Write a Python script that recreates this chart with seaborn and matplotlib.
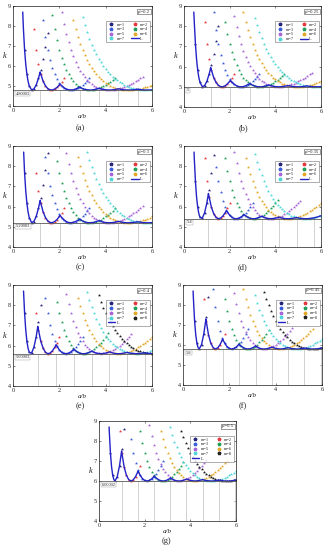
import numpy as np
import matplotlib
matplotlib.use('Agg')
import matplotlib.pyplot as plt
import seaborn as sns
from matplotlib.lines import Line2D

# ---------------- data (buckling coefficient k versus a/b, dots every 0.1) ----------------
panel_labels = ['(a)', '(b)', '(c)', '(d)', '(e)', '(f)', '(g)']
nu_labels = ["μ'=0.2", "μ'=0.25", "μ'=0.3", "μ'=0.35", "μ'=0.4", "μ'=0.45", "μ'=0.5"]
base_k = [4.8, 5.0, 5.2, 5.4, 5.6, 5.8, 6.0]
base_labels = ['4.80003', '5', '5.20003', '5.4', '5.60003', '5.8', '6.00002']
x_ticks = [0, 2, 4, 6]
y_ticks = [4, 5, 6, 7, 8, 9]

# (a)
a_x0 = [0.5, 0.9, 1.3, 1.7, 2.1, 2.6, 3.0]
a_m1 = [6.81, 5.59, 5.01, 4.81, 4.85, 5.05, 5.39, 5.82, 6.35, 6.95, 7.63]
a_m2 = [7.85, 6.81, 6.09, 5.59, 5.24, 5.01, 4.87, 4.81, 4.80, 4.85, 4.93, 5.05, 5.21, 5.39]
a_m3 = [8.29, 7.46, 6.81, 6.30, 5.90, 5.59, 5.34, 5.15, 5.01, 4.91, 4.85, 4.81, 4.80, 4.81, 4.85, 4.90, 4.97,
        5.05, 5.15, 5.26, 5.39]
a_m4 = [8.54, 7.85, 7.29, 6.81, 6.42, 6.09, 5.81, 5.59, 5.40, 5.24, 5.11, 5.01, 4.93, 4.87, 4.83, 4.81, 4.80,
        4.80, 4.82, 4.85, 4.88, 4.93, 4.99, 5.05, 5.13, 5.21, 5.29, 5.39]
a_m5 = [8.69, 8.11, 7.61, 7.18, 6.81, 6.49, 6.21, 5.97, 5.76, 5.59, 5.43, 5.30, 5.18, 5.09, 5.01, 4.95, 4.90,
        4.86, 4.83, 4.81, 4.80, 4.80, 4.81, 4.82, 4.85, 4.88, 4.91, 4.95, 5.00, 5.05, 5.11, 5.17, 5.24, 5.31,
        5.39, 5.47]
a_m6 = [8.29, 7.85, 7.46, 7.12, 6.81, 6.54, 6.30, 6.09, 5.90, 5.73, 5.59, 5.45, 5.34, 5.24, 5.15, 5.08, 5.01,
        4.96, 4.91, 4.87, 4.85, 4.82, 4.81, 4.80, 4.80, 4.80, 4.81, 4.83, 4.85, 4.87, 4.90, 4.93, 4.97, 5.01,
        5.05]
a_m7 = [8.43, 8.03, 7.68, 7.36, 7.07, 6.81, 6.58, 6.37, 6.18, 6.01, 5.85, 5.71, 5.59, 5.47, 5.37, 5.28, 5.20,
        5.13, 5.07, 5.01, 4.96, 4.92, 4.89, 4.86, 4.84, 4.82, 4.81, 4.80, 4.80, 4.80, 4.81]
a_head_x = [0.42, 0.45, 0.55, 0.65]
a_head_k = [8.70, 7.85, 6.09, 5.24]
a_cusp_x = [1.17, 2.03, 2.88, 3.71, 4.55, 5.38]
a_cusp_k = [5.70, 5.10, 4.95, 4.89, 4.86, 4.84]

# (b)
b_x0 = [0.5, 0.9, 1.3, 1.8, 2.2, 2.6, 3.1]
b_m1 = [7.13, 5.83, 5.22, 5.01, 5.05, 5.27, 5.62, 6.08, 6.64, 7.27, 7.99]
b_m2 = [8.22, 7.13, 6.36, 5.83, 5.46, 5.22, 5.08, 5.01, 5.00, 5.05, 5.14, 5.27, 5.43, 5.62]
b_m3 = [8.69, 7.81, 7.13, 6.59, 6.16, 5.83, 5.57, 5.37, 5.22, 5.12, 5.05, 5.01, 5.00, 5.01, 5.05, 5.11, 5.18,
        5.27, 5.37, 5.49, 5.62]
b_m4 = [8.22, 7.62, 7.13, 6.71, 6.36, 6.07, 5.83, 5.63, 5.46, 5.33, 5.22, 5.14, 5.08, 5.04, 5.01, 5.00, 5.00,
        5.02, 5.05, 5.09, 5.14, 5.20, 5.27, 5.34, 5.43, 5.52, 5.62]
b_m5 = [8.50, 7.97, 7.52, 7.13, 6.79, 6.49, 6.24, 6.02, 5.83, 5.67, 5.53, 5.41, 5.31, 5.22, 5.15, 5.10, 5.06,
        5.03, 5.01, 5.00, 5.00, 5.01, 5.03, 5.05, 5.08, 5.12, 5.16, 5.21, 5.27, 5.33, 5.39, 5.46, 5.54, 5.62,
        5.70]
b_m6 = [8.69, 8.22, 7.81, 7.45, 7.13, 6.84, 6.59, 6.36, 6.16, 5.99, 5.83, 5.69, 5.57, 5.46, 5.37, 5.29, 5.22,
        5.16, 5.12, 5.08, 5.05, 5.03, 5.01, 5.00, 5.00, 5.00, 5.01, 5.03, 5.05, 5.08, 5.11, 5.14, 5.18, 5.22,
        5.27]
b_m7 = [8.41, 8.04, 7.70, 7.40, 7.13, 6.88, 6.66, 6.46, 6.27, 6.11, 5.96, 5.83, 5.71, 5.60, 5.51, 5.42, 5.35,
        5.28, 5.22, 5.17, 5.13, 5.09, 5.06, 5.04, 5.02, 5.01, 5.00, 5.00, 5.00, 5.01]
b_head_x = [0.43, 0.45, 0.55, 0.65]
b_head_k = [8.70, 8.22, 6.36, 5.46]
b_cusp_x = [1.17, 2.03, 2.88, 3.71, 4.55, 5.38]
b_cusp_k = [5.95, 5.32, 5.16, 5.10, 5.06, 5.05]

# (c)
c_x0 = [0.5, 1.0, 1.4, 1.9, 2.3, 2.8, 3.2]
c_m1 = [7.66, 6.16, 5.46, 5.21, 5.26, 5.51, 5.92, 6.45, 7.09, 7.83, 8.66]
c_m2 = [7.66, 6.78, 6.16, 5.74, 5.46, 5.29, 5.21, 5.21, 5.26, 5.36, 5.51, 5.70, 5.92]
c_m3 = [8.46, 7.66, 7.04, 6.55, 6.16, 5.86, 5.63, 5.46, 5.34, 5.26, 5.21, 5.20, 5.22, 5.26, 5.32, 5.41, 5.51,
        5.63, 5.77, 5.92]
c_m4 = [8.24, 7.66, 7.18, 6.78, 6.44, 6.16, 5.93, 5.74, 5.58, 5.46, 5.36, 5.29, 5.24, 5.21, 5.20, 5.21, 5.22,
        5.26, 5.30, 5.36, 5.43, 5.51, 5.60, 5.70, 5.80, 5.92]
c_m5 = [8.64, 8.11, 7.66, 7.27, 6.93, 6.63, 6.38, 6.16, 5.97, 5.81, 5.67, 5.55, 5.46, 5.38, 5.32, 5.27, 5.23,
        5.21, 5.20, 5.20, 5.21, 5.23, 5.26, 5.29, 5.34, 5.39, 5.45, 5.51, 5.58, 5.66, 5.74, 5.82, 5.92, 6.01]
c_m6 = [8.46, 8.03, 7.66, 7.33, 7.04, 6.78, 6.55, 6.34, 6.16, 6.00, 5.86, 5.74, 5.63, 5.54, 5.46, 5.39, 5.34,
        5.29, 5.26, 5.23, 5.21, 5.20, 5.20, 5.21, 5.22, 5.23, 5.26, 5.29, 5.32, 5.36, 5.41, 5.46, 5.51]
c_m7 = [8.72, 8.33, 7.98, 7.66, 7.37, 7.12, 6.88, 6.67, 6.48, 6.31, 6.16, 6.02, 5.90, 5.79, 5.69, 5.60, 5.52,
        5.46, 5.40, 5.35, 5.31, 5.27, 5.25, 5.23, 5.21, 5.20, 5.20, 5.20, 5.21]
c_head_x = [0.46, 0.55, 0.65]
c_head_k = [8.70, 6.78, 5.74]
c_cusp_x = [1.17, 2.03, 2.88, 3.71, 4.55, 5.38]
c_cusp_k = [6.30, 5.57, 5.38, 5.31, 5.27, 5.25]

# (d)
d_x0 = [0.5, 0.9, 1.4, 1.8, 2.2, 2.7, 3.1]
d_m1 = [7.26, 5.97, 5.47, 5.43, 5.69, 6.17, 6.83, 7.64, 8.57]
d_m2 = [8.41, 7.26, 6.48, 5.97, 5.65, 5.47, 5.40, 5.43, 5.53, 5.69, 5.91, 6.17]
d_m3 = [7.97, 7.26, 6.71, 6.29, 5.97, 5.74, 5.57, 5.47, 5.41, 5.40, 5.43, 5.49, 5.57, 5.69, 5.83, 5.99, 6.17]
d_m4 = [8.41, 7.78, 7.26, 6.83, 6.48, 6.20, 5.97, 5.79, 5.65, 5.54, 5.47, 5.42, 5.40, 5.40, 5.43, 5.47, 5.53,
        5.60, 5.69, 5.79, 5.91, 6.03, 6.17, 6.32]
d_m5 = [8.70, 8.14, 7.66, 7.26, 6.91, 6.61, 6.36, 6.15, 5.97, 5.82, 5.70, 5.60, 5.52, 5.47, 5.43, 5.41, 5.40,
        5.41, 5.43, 5.46, 5.50, 5.55, 5.62, 5.69, 5.77, 5.86, 5.96, 6.06, 6.17, 6.29]
d_m6 = [8.41, 7.97, 7.59, 7.26, 6.97, 6.71, 6.48, 6.29, 6.12, 5.97, 5.84, 5.74, 5.65, 5.57, 5.51, 5.47, 5.43,
        5.41, 5.40, 5.40, 5.41, 5.43, 5.45, 5.49, 5.53, 5.57, 5.63, 5.69, 5.76, 5.83, 5.91, 5.99, 6.08, 6.17]
d_m7 = [8.61, 8.21, 7.86, 7.54, 7.26, 7.00, 6.78, 6.58, 6.40, 6.24, 6.09, 5.97, 5.86, 5.76, 5.68, 5.61, 5.55,
        5.51, 5.47, 5.44, 5.42, 5.41, 5.40, 5.40, 5.41, 5.43, 5.45, 5.47, 5.51, 5.55]
d_head_x = [0.44, 0.45, 0.55, 0.65]
d_head_k = [8.70, 8.41, 6.48, 5.65]
d_cusp_x = [1.07, 1.86, 2.63, 3.40, 4.16, 4.93, 5.69]
d_cusp_k = [6.65, 5.82, 5.61, 5.53, 5.48, 5.46, 5.44]

# (e)
e_x0 = [0.5, 1.0, 1.4, 1.9, 2.3, 2.8, 3.2, 3.7]
e_m1 = [7.61, 6.21, 5.67, 5.63, 5.91, 6.43, 7.15, 8.01]
e_m2 = [7.61, 6.77, 6.21, 5.87, 5.67, 5.60, 5.63, 5.74, 5.91, 6.15, 6.43]
e_m3 = [8.38, 7.61, 7.01, 6.56, 6.21, 5.96, 5.79, 5.67, 5.61, 5.60, 5.63, 5.69, 5.79, 5.91, 6.06, 6.24, 6.43]
e_m4 = [8.17, 7.61, 7.15, 6.77, 6.46, 6.21, 6.02, 5.87, 5.75, 5.67, 5.62, 5.60, 5.60, 5.63, 5.67, 5.74, 5.82,
        5.91, 6.02, 6.15, 6.28, 6.43, 6.60]
e_m5 = [8.56, 8.05, 7.61, 7.23, 6.91, 6.64, 6.41, 6.21, 6.05, 5.92, 5.82, 5.73, 5.67, 5.63, 5.61, 5.60, 5.61,
        5.63, 5.66, 5.71, 5.77, 5.83, 5.91, 6.00, 6.10, 6.20, 6.31, 6.43, 6.56]
e_m6 = [8.38, 7.97, 7.61, 7.29, 7.01, 6.77, 6.56, 6.37, 6.21, 6.08, 5.96, 5.87, 5.79, 5.72, 5.67, 5.64, 5.61,
        5.60, 5.60, 5.61, 5.63, 5.66, 5.69, 5.74, 5.79, 5.85, 5.91, 5.98, 6.06, 6.15, 6.24, 6.33, 6.43]
e_m7 = [8.64, 8.26, 7.91, 7.61, 7.33, 7.09, 6.87, 6.68, 6.50, 6.35, 6.21, 6.10, 5.99, 5.91, 5.83, 5.77, 5.71,
        5.67, 5.64, 5.62, 5.61, 5.60, 5.60, 5.61, 5.63, 5.65, 5.68, 5.72, 5.76]
e_m8 = [8.49, 8.17, 7.87, 7.61, 7.37, 7.15, 6.95, 6.77, 6.61, 6.46, 6.33, 6.21, 6.11, 6.02, 5.94, 5.87, 5.80,
        5.75, 5.71, 5.67, 5.65, 5.62, 5.61, 5.60]
e_head_x = [0.455, 0.55, 0.65]
e_head_k = [8.70, 6.77, 5.87]
e_cusp_x = [1.07, 1.86, 2.63, 3.40, 4.16, 4.93, 5.69]
e_cusp_k = [6.95, 6.05, 5.83, 5.74, 5.69, 5.66, 5.65]

# (f)
f_x0 = [0.5, 0.9, 1.3, 1.8, 2.2, 2.6, 3.1, 3.5]
f_m1 = [7.21, 6.09, 5.80, 6.02, 6.57, 7.39, 8.42]
f_m2 = [8.30, 7.21, 6.51, 6.09, 5.87, 5.80, 5.86, 6.02, 6.26, 6.57]
f_m3 = [8.78, 7.88, 7.21, 6.71, 6.34, 6.09, 5.92, 5.83, 5.80, 5.83, 5.90, 6.02, 6.17, 6.36, 6.57, 6.82]
f_m4 = [8.30, 7.70, 7.21, 6.82, 6.51, 6.27, 6.09, 5.95, 5.87, 5.82, 5.80, 5.81, 5.86, 5.92, 6.02, 6.13, 6.26,
        6.41, 6.57, 6.76]
f_m5 = [8.58, 8.04, 7.59, 7.21, 6.89, 6.63, 6.41, 6.23, 6.09, 5.98, 5.90, 5.84, 5.81, 5.80, 5.81, 5.84, 5.88,
        5.94, 6.02, 6.10, 6.20, 6.32, 6.44, 6.57, 6.72, 6.87]
f_m6 = [8.78, 8.30, 7.88, 7.52, 7.21, 6.94, 6.71, 6.51, 6.34, 6.20, 6.09, 5.99, 5.92, 5.87, 5.83, 5.81, 5.80,
        5.81, 5.83, 5.86, 5.90, 5.95, 6.02, 6.09, 6.17, 6.26, 6.36, 6.46, 6.57, 6.69, 6.82]
f_m7 = [8.50, 8.11, 7.77, 7.48, 7.21, 6.98, 6.77, 6.59, 6.44, 6.30, 6.19, 6.09, 6.01, 5.94, 5.89, 5.85, 5.82,
        5.81, 5.80, 5.80, 5.82, 5.84, 5.87, 5.91, 5.96, 6.02, 6.08, 6.14, 6.22, 6.30]
f_m8 = [8.65, 8.30, 7.98, 7.70, 7.44, 7.21, 7.01, 6.82, 6.66, 6.51, 6.38, 6.27, 6.17, 6.09, 6.02, 5.95, 5.91,
        5.87, 5.84, 5.82, 5.80, 5.80, 5.80, 5.81, 5.83, 5.86]
f_head_x = [0.436, 0.45, 0.55, 0.65]
f_head_k = [8.70, 8.30, 6.51, 5.87]
f_cusp_x = [0.99, 1.71, 2.42, 3.13, 3.83, 4.54, 5.24, 5.94]
f_cusp_k = [7.30, 6.30, 6.05, 5.95, 5.90, 5.87, 5.85, 5.84]

# (g)
g_x0 = [0.5, 0.9, 1.4, 1.8, 2.2, 2.7, 3.1, 3.6]
g_m1 = [7.41, 6.29, 6.00, 6.22, 6.77, 7.59, 8.62]
g_m2 = [8.50, 7.41, 6.71, 6.29, 6.07, 6.00, 6.06, 6.22, 6.46, 6.77]
g_m3 = [8.08, 7.41, 6.91, 6.54, 6.29, 6.12, 6.03, 6.00, 6.03, 6.10, 6.22, 6.37, 6.56, 6.77, 7.02]
g_m4 = [8.50, 7.90, 7.41, 7.02, 6.71, 6.47, 6.29, 6.15, 6.07, 6.02, 6.00, 6.01, 6.06, 6.12, 6.22, 6.33, 6.46,
        6.61, 6.77, 6.96]
g_m5 = [8.78, 8.24, 7.79, 7.41, 7.09, 6.83, 6.61, 6.43, 6.29, 6.18, 6.10, 6.04, 6.01, 6.00, 6.01, 6.04, 6.08,
        6.14, 6.22, 6.30, 6.40, 6.52, 6.64, 6.77, 6.92, 7.07]
g_m6 = [8.50, 8.08, 7.72, 7.41, 7.14, 6.91, 6.71, 6.54, 6.40, 6.29, 6.19, 6.12, 6.07, 6.03, 6.01, 6.00, 6.01,
        6.03, 6.06, 6.10, 6.15, 6.22, 6.29, 6.37, 6.46, 6.56, 6.66, 6.77, 6.89, 7.02]
g_m7 = [8.70, 8.31, 7.97, 7.68, 7.41, 7.18, 6.97, 6.79, 6.64, 6.50, 6.39, 6.29, 6.21, 6.14, 6.09, 6.05, 6.02,
        6.01, 6.00, 6.00, 6.02, 6.04, 6.07, 6.11, 6.16, 6.22, 6.28, 6.34, 6.42, 6.50]
g_m8 = [8.50, 8.18, 7.90, 7.64, 7.41, 7.21, 7.02, 6.86, 6.71, 6.58, 6.47, 6.37, 6.29, 6.22, 6.15, 6.11, 6.07,
        6.04, 6.02, 6.00, 6.00, 6.00, 6.01, 6.03, 6.06]
g_head_x = [0.443, 0.45, 0.55, 0.65]
g_head_k = [8.70, 8.50, 6.71, 6.07]
g_cusp_x = [0.99, 1.71, 2.42, 3.13, 3.83, 4.54, 5.24, 5.94]
g_cusp_k = [7.50, 6.50, 6.25, 6.15, 6.10, 6.07, 6.05, 6.04]

series_all = [[a_m1, a_m2, a_m3, a_m4, a_m5, a_m6, a_m7],
              [b_m1, b_m2, b_m3, b_m4, b_m5, b_m6, b_m7],
              [c_m1, c_m2, c_m3, c_m4, c_m5, c_m6, c_m7],
              [d_m1, d_m2, d_m3, d_m4, d_m5, d_m6, d_m7],
              [e_m1, e_m2, e_m3, e_m4, e_m5, e_m6, e_m7, e_m8],
              [f_m1, f_m2, f_m3, f_m4, f_m5, f_m6, f_m7, f_m8],
              [g_m1, g_m2, g_m3, g_m4, g_m5, g_m6, g_m7, g_m8]]
x0_all = [a_x0, b_x0, c_x0, d_x0, e_x0, f_x0, g_x0]
head_all = [(a_head_x, a_head_k), (b_head_x, b_head_k), (c_head_x, c_head_k), (d_head_x, d_head_k),
            (e_head_x, e_head_k), (f_head_x, f_head_k), (g_head_x, g_head_k)]
cusp_all = [(a_cusp_x, a_cusp_k), (b_cusp_x, b_cusp_k), (c_cusp_x, c_cusp_k), (d_cusp_x, d_cusp_k),
            (e_cusp_x, e_cusp_k), (f_cusp_x, f_cusp_k), (g_cusp_x, g_cusp_k)]

# ---------------- style ----------------
sns.set_theme(style='white')
plt.rcParams['font.family'] = ['Liberation Serif', 'DejaVu Serif']
colors = ['#25257a', '#e8383d', '#3a5fd9', '#22a05a', '#a867d6', '#e3a72a', '#4fd6d6', '#222222']
line_color = '#2323c8'

boxes_px = [(13, 152, 6, 106), (184, 321, 6, 107), (13, 152, 146, 247), (184, 321, 146, 247),
            (13, 152, 285, 386), (183, 322, 285, 385), (99, 236, 421, 521)]
lab_pos = [(80, 128), (243, 128), (80, 267), (243, 267), (80, 406), (243, 406), (166, 541)]
W, H = 327, 550

fig = plt.figure(figsize=(W / 100, H / 100), dpi=100)
for i in range(7):
    l, r, t, b = boxes_px[i]
    ax = fig.add_axes([l / W, 1 - b / H, (r - l) / W, (b - t) / H])
    K0 = base_k[i]
    env = {}
    for j, (vals, x0) in enumerate(zip(series_all[i], x0_all[i])):
        xs = np.round(x0 + 0.1 * np.arange(len(vals)), 2)
        sns.scatterplot(x=xs, y=vals, ax=ax, marker='*', s=6, color=colors[j], linewidth=0, legend=False)
        for xv, kv in zip(xs, vals):
            env[float(xv)] = min(env.get(float(xv), 99.0), kv)
    hx, hk = head_all[i]
    cx, ck = cusp_all[i]
    pts = sorted(list(env.items()) + list(zip(hx, hk)) + list(zip(cx, ck)))
    lx = [p[0] for p in pts]
    lk = [p[1] for p in pts]
    sns.lineplot(x=lx, y=lk, ax=ax, color=line_color, lw=1.0, sort=False)
    ax.vlines(cx, 4, K0, color='0.75', lw=0.5)
    ax.axhline(K0, color='0.35', lw=0.6)
    ax.text(0.12, K0 - 0.08, base_labels[i], fontsize=3.2, va='top', ha='left',
            bbox=dict(boxstyle='square,pad=0.15', fc='white', ec='0.6', lw=0.3))
    ax.set_xlim(0, 6)
    ax.set_ylim(4, 9)
    ax.set_xticks(x_ticks)
    ax.set_yticks(y_ticks)
    ax.tick_params(direction='in', length=1.5, width=0.4, labelsize=4.5, pad=1.5,
                   top=True, right=True, bottom=True, left=True)
    for sp in ax.spines.values():
        sp.set_linewidth(0.5)
        sp.set_color('k')
    ax.set_xlabel('a/b', fontsize=5, style='italic', labelpad=1)
    ax.set_ylabel('k', fontsize=6, style='italic', rotation=0, ha='center', va='center')
    ax.yaxis.set_label_coords(-0.06, 0.5)
    hs = [Line2D([], [], ls='', marker='*', ms=2.5, color=colors[m], label=f'm={m + 1}')
          for m in range(len(series_all[i]))]
    hs.append(Line2D([], [], color=line_color, lw=1.0, label='L'))
    order = hs[0::2] + hs[1::2]
    leg = ax.legend(handles=order, ncol=2, loc='upper right', bbox_to_anchor=(1.0, 0.87),
                    fontsize=3.2, frameon=True, fancybox=False, edgecolor='0.3',
                    handlelength=1.6, handletextpad=0.4, columnspacing=1.5,
                    borderpad=0.3, labelspacing=0.15)
    leg.get_frame().set_linewidth(0.4)
    ax.text(0.985, 0.965, nu_labels[i], transform=ax.transAxes, fontsize=3.4, ha='right', va='top',
            bbox=dict(boxstyle='square,pad=0.2', fc='white', ec='0.3', lw=0.4))
    fig.text(lab_pos[i][0] / W, 1 - lab_pos[i][1] / H, panel_labels[i], fontsize=6, ha='center', va='center')

fig.savefig('out.png', dpi=100)
